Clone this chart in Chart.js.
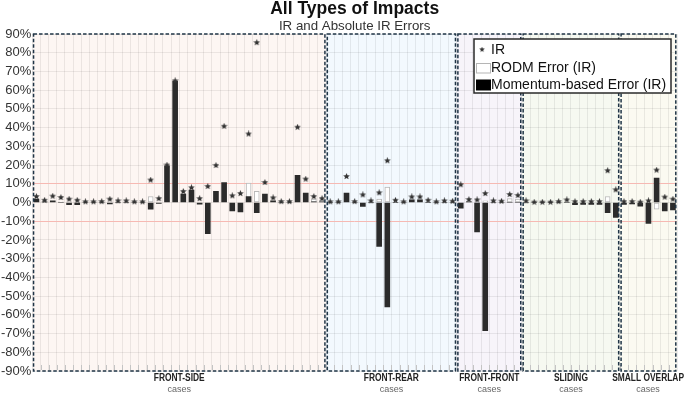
<!DOCTYPE html>
<html>
<head>
<meta charset="utf-8">
<script src="https://cdn.jsdelivr.net/npm/chart.js@4.4.1/dist/chart.umd.min.js"></script>
<style>
  html, body { margin: 0; padding: 0; background: #fff; }
  #chart { display: block; }
</style>
</head>
<body>
<canvas id="chart" width="685" height="393"></canvas>
<script>
// impact groups and how many cases each holds
const caseGroups = ["FRONT-SIDE", "FRONT-REAR", "FRONT-FRONT", "SLIDING", "SMALL OVERLAP"];
const groupSizes = [36, 16, 8, 12, 7];
const groupSubLabel = "cases";

const yTicks = [-90, -80, -70, -60, -50, -40, -30, -20, -10, 0, 10, 20, 30, 40, 50, 60, 70, 80, 90];

// IR per case (%)
const irValues = [
    3.2, 1.2, 3.4, 2.7, 1.8, 1.2, 0.4, 0.4, 0.5, 1.8, 0.9, 0.9, 0.4, 0.4, 12, 2.1, 20, 65,
    5.9, 7.9, 2.1, 8.6, 19.8, 40.7, 3.6, 4.8, 36.6, 85.4, 10.7, 2.5, 0.5, 0.5, 40.2, 12.5, 3.2, 2.1,
    0.4, 0.4, 13.9, 0.5, 4.1, 0.9, 5.2, 22.3, 1.2, 0.4, 3.0, 3.0, 1.2, 0.4, 0.9, 0.7,
    9.5, 1.6, 1.4, 4.8, 0.9, 0.7, 4.3, 3.8,
    0.9, 0.2, 0.2, 0.2, 0.5, 1.4, 0.5, 0.5, 0.5, 0.5, 17, 6.8,
    0.5, 0.5, 0.2, 0.9, 17.3, 2.9, 1.8
];

// RODM error (IR), %
const rodmValues = [
    1.0, 0, 0.5, 0.4, 0, 0.3, 0, 0, 0, 0, 0, 0, 0, 0, 3.2, 0, 0, 0,
    0, 0, 0, 0, 0, 0, 0, 0, 10.4, 5.9, 0, 0, 0, 0, 0, 0, 1.8, 1.2,
    0, 0, 0, 0, 0, 0, 1.8, 8.2, 0, 0, 0, 0, 0, 0, 0, 0,
    0, 0.5, 0, 0.9, 0, 0, 2.1, 1.8,
    0, 0, 0, 0, 0, 0, 0, 0, 0, 0, 3.2, 0,
    0, 0, 0, 0, -3.5, 0, 0
];

// Momentum-based error (IR), %
const momentumValues = [
    1.8, 0.3, 0.9, 0, -1.2, -1.2, 0, 0, 0, -0.8, 0, 0, 0, 0, -3.6, -0.5, 19.6, 64.8,
    4.5, 6.6, -0.9, -16.6, 5.9, 10.7, -4.5, -5.0, 3.2, -5.4, 4.5, 0.9, 0, 0, 14.5, 5.0, 0.3, 0.3,
    0, 0, 5.0, 0, -2.1, 0, -23.5, -55.8, 0, 0, 1.4, 1.4, 0, 0, 0, 0,
    -3.0, 0.3, -15.7, -68.4, 0, 0, 0, 0,
    0, 0, 0, 0, 0, 0, -1.2, -1.0, -1.0, -1.0, -5.4, -8.0,
    -1.0, -0.8, -2.0, -11.2, 13.0, -4.5, -4.0
];

const caseLabels = [];
caseGroups.forEach((g, gi) => {
    for (let k = 0; k < groupSizes[gi]; k++) caseLabels.push(g + " " + (k + 1));
});

// styling
const groupFills = ["#fdf6f3", "#f3f9fe", "#f7f4fa", "#f6f9f1", "#fbfaf1"];
const gridColor = "rgba(0,0,0,0.07)";
const limitColor = "#f6b9b3";
const boxColor = "#1f3446";
const FONT = "'Liberation Sans', Arial, sans-serif";

function makeStar(size, color) {
    const c = document.createElement("canvas");
    c.width = size; c.height = size;
    const g = c.getContext("2d");
    const cx = size / 2, cy = size / 2, ro = size / 2, ri = ro * 0.45;
    g.beginPath();
    for (let i = 0; i < 10; i++) {
        const r = i % 2 === 0 ? ro : ri;
        const a = -Math.PI / 2 + i * Math.PI / 5;
        g.lineTo(cx + r * Math.cos(a), cy + r * Math.sin(a));
    }
    g.closePath();
    g.fillStyle = color;
    g.fill();
    return c;
}
const starImg = makeStar(7, "#333");

function groupBounds(chart) {
    const x = chart.scales.x;
    const half = (x.getPixelForValue(1) - x.getPixelForValue(0)) / 2;
    const out = [];
    let start = 0;
    groupSizes.forEach(n => {
        out.push([x.getPixelForValue(start) - half, x.getPixelForValue(start + n - 1) + half]);
        start += n;
    });
    return out;
}

// condensed-looking text by squeezing it horizontally
function narrowText(ctx, text, cx, cy, squeeze) {
    ctx.save();
    ctx.translate(cx, cy);
    ctx.scale(squeeze, 1);
    ctx.fillText(text, 0, 0);
    ctx.restore();
}

const decorPlugin = {
    id: "decor",
    beforeDraw(chart) {
        const ctx = chart.ctx;
        const area = chart.chartArea;
        ctx.save();
        ctx.fillStyle = "#fff";
        ctx.fillRect(0, 0, chart.width, chart.height);
        groupBounds(chart).forEach((b, i) => {
            ctx.fillStyle = groupFills[i];
            ctx.fillRect(b[0], area.top, b[1] - b[0], area.bottom - area.top);
        });
        ctx.restore();
    },
    beforeDatasetsDraw(chart) {
        // little ticks along the bottom edge
        const ctx = chart.ctx;
        const area = chart.chartArea;
        const x = chart.scales.x;
        const half = (x.getPixelForValue(1) - x.getPixelForValue(0)) / 2;
        ctx.save();
        ctx.strokeStyle = "#c4c4c4";
        ctx.lineWidth = 1;
        for (let i = 1; i < caseLabels.length; i++) {
            const px = Math.round(x.getPixelForValue(i) - half) + 0.5;
            ctx.beginPath();
            ctx.moveTo(px, area.bottom - 6);
            ctx.lineTo(px, area.bottom - 1);
            ctx.stroke();
        }
        ctx.restore();
    },
    afterDraw(chart) {
        const ctx = chart.ctx;
        const area = chart.chartArea;
        const bounds = groupBounds(chart);
        ctx.save();

        // dashed group boxes
        ctx.strokeStyle = boxColor;
        ctx.lineWidth = 1.5;
        ctx.setLineDash([3.5, 2]);
        bounds.forEach(b => {
            ctx.strokeRect(b[0] + 1.2, area.top, b[1] - b[0] - 2.4, area.bottom - area.top);
        });
        ctx.setLineDash([]);

        // group labels
        ctx.textAlign = "center";
        ctx.textBaseline = "middle";
        bounds.forEach((b, i) => {
            let cx = (b[0] + b[1]) / 2;
            ctx.fillStyle = "#222";
            ctx.font = "bold 10.5px " + FONT;
            const w = ctx.measureText(caseGroups[i]).width * 0.8;
            cx = Math.min(cx, chart.width - 1 - w / 2);
            narrowText(ctx, caseGroups[i], cx, 378.5, 0.8);
            ctx.fillStyle = "#666";
            ctx.font = "9px " + FONT;
            ctx.fillText(groupSubLabel, cx, 389.5);
        });

        // titles
        const mid = (area.left + area.right) / 2;
        ctx.fillStyle = "#111";
        ctx.font = "bold 17.5px " + FONT;
        ctx.fillText("All Types of Impacts", mid, 9);
        ctx.fillStyle = "#333";
        ctx.font = "13.3px " + FONT;
        ctx.fillText("IR and Absolute IR Errors", mid, 26);

        // legend
        const lx = 474, ly = 39, lw = 197, lh = 54;
        ctx.fillStyle = "#fff";
        ctx.fillRect(lx, ly, lw, lh);
        ctx.strokeStyle = "#2a2a2a";
        ctx.lineWidth = 1.5;
        ctx.strokeRect(lx, ly, lw, lh);
        const ds = chart.data.datasets;
        ctx.textAlign = "left";
        ctx.font = "14px " + FONT;
        ctx.fillStyle = "#111";
        // IR
        ctx.drawImage(starImg, 479, 46.5, 6, 6);
        ctx.fillText(ds[0].label, 491, 50);
        // RODM
        ctx.fillStyle = "#fff";
        ctx.fillRect(476.5, 63.5, 14, 9.5);
        ctx.strokeStyle = "#b5b5b5";
        ctx.lineWidth = 1;
        ctx.strokeRect(476.5, 63.5, 14, 9.5);
        ctx.fillStyle = "#111";
        ctx.fillText(ds[2].label, 491, 68.5);
        // Momentum
        ctx.fillStyle = "#000";
        ctx.fillRect(476, 79.5, 15, 11);
        ctx.fillStyle = "#111";
        ctx.fillText(ds[1].label, 491, 85.5);

        ctx.restore();
    }
};

const ctx = document.getElementById("chart").getContext("2d");
new Chart(ctx, {
    type: "bar",
    data: {
        labels: caseLabels,
        datasets: [
            {
                type: "line",
                label: "IR",
                data: irValues,
                showLine: false,
                pointStyle: starImg,
                pointRadius: 3,
                order: 0
            },
            {
                label: "Momentum-based Error (IR)",
                data: momentumValues,
                backgroundColor: "#2b2b2b",
                barThickness: 5,
                grouped: false,
                order: 1
            },
            {
                label: "RODM Error (IR)",
                data: rodmValues,
                backgroundColor: "#ffffff",
                borderColor: "#b8b8b8",
                borderWidth: 1,
                borderSkipped: false,
                barThickness: 5,
                grouped: false,
                order: 2
            }
        ]
    },
    options: {
        responsive: false,
        animation: false,
        devicePixelRatio: 1,
        layout: { padding: { top: 34, bottom: 22, left: 0, right: 8 } },
        plugins: {
            legend: { display: false },
            tooltip: { enabled: false },
            title: { display: false }
        },
        scales: {
            x: {
                offset: true,
                grid: { color: gridColor, drawTicks: false, offset: true },
                ticks: { display: false },
                border: { display: false }
            },
            y: {
                min: yTicks[0],
                max: yTicks[yTicks.length - 1],
                afterBuildTicks: axis => { axis.ticks = yTicks.map(v => ({ value: v })); },
                ticks: {
                    callback: v => v + "%",
                    color: "#333",
                    font: { size: 13, family: FONT },
                    padding: 1
                },
                grid: {
                    color: c => (c.tick && Math.abs(c.tick.value) === 10) ? limitColor : gridColor,
                    drawTicks: false
                },
                border: { display: false }
            }
        }
    },
    plugins: [decorPlugin]
});
</script>
</body>
</html>
